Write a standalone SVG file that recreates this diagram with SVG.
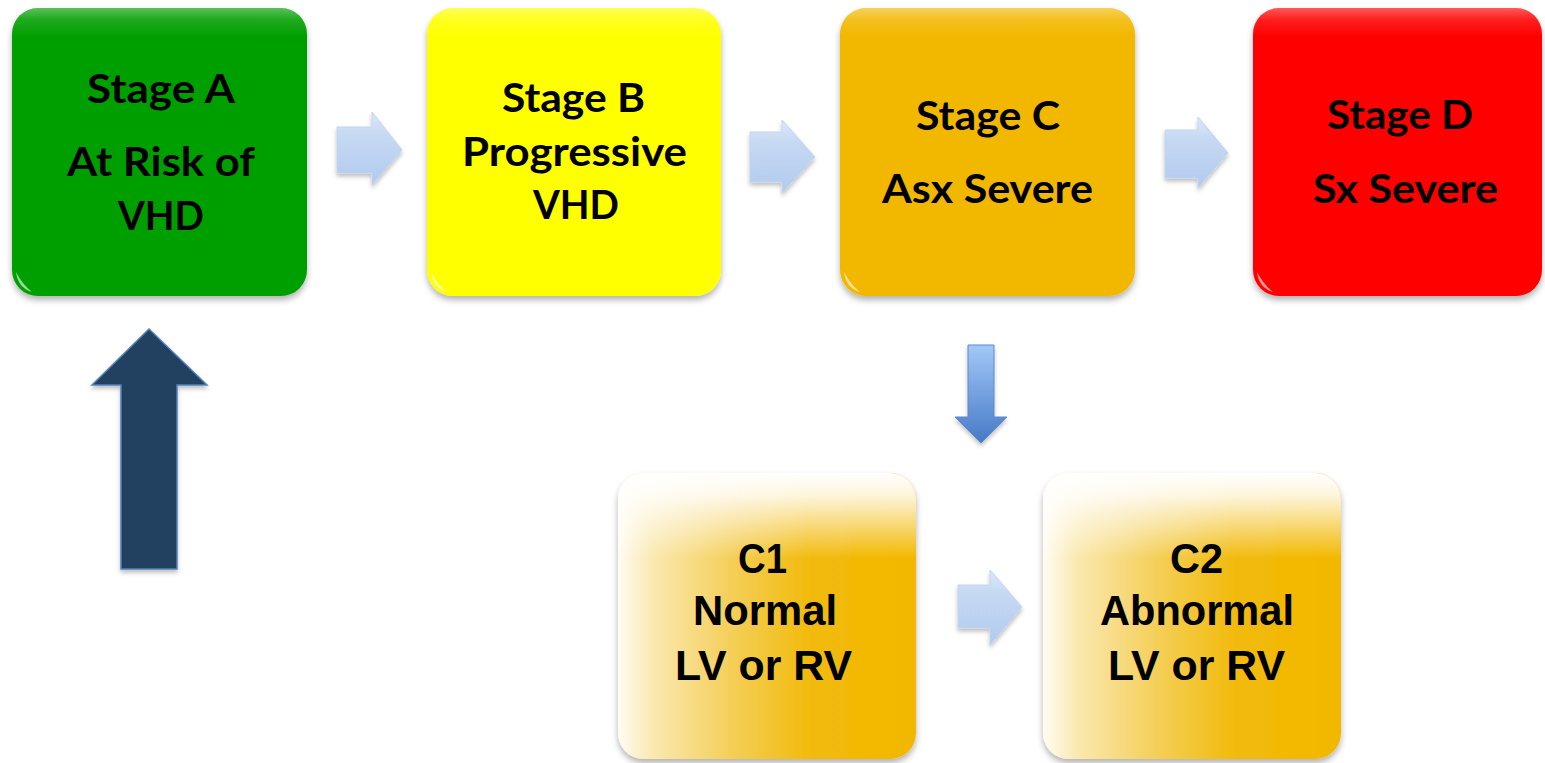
<svg xmlns="http://www.w3.org/2000/svg" width="1545" height="763" viewBox="0 0 1545 763">
  <defs>
    <filter id="shadow" x="-10%" y="-10%" width="120%" height="125%">
      <feDropShadow dx="0" dy="4" stdDeviation="3" flood-color="#000" flood-opacity="0.3"/>
    </filter>
    <filter id="ashadow" x="-20%" y="-20%" width="140%" height="150%">
      <feDropShadow dx="0" dy="3" stdDeviation="2" flood-color="#000" flood-opacity="0.25"/>
    </filter>
    <linearGradient id="gloss" x1="0" y1="0" x2="0" y2="1">
      <stop offset="0" stop-color="#fff" stop-opacity="0.35"/>
      <stop offset="0.04" stop-color="#fff" stop-opacity="0.12"/>
      <stop offset="0.1" stop-color="#fff" stop-opacity="0"/>
      <stop offset="1" stop-color="#fff" stop-opacity="0"/>
    </linearGradient>
    <linearGradient id="cfill" x1="0" y1="0" x2="1" y2="0">
      <stop offset="0" stop-color="#FFFCF2"/>
      <stop offset="0.12" stop-color="#FAE8AE"/>
      <stop offset="0.4" stop-color="#F4CD52"/>
      <stop offset="0.65" stop-color="#F2BA0A"/>
      <stop offset="1" stop-color="#F2B800"/>
    </linearGradient>
    <linearGradient id="ctop" x1="0" y1="0" x2="0" y2="1">
      <stop offset="0" stop-color="#fff" stop-opacity="1"/>
      <stop offset="0.08" stop-color="#fff" stop-opacity="0.85"/>
      <stop offset="0.3" stop-color="#fff" stop-opacity="0"/>
    </linearGradient>
    <linearGradient id="lblue" x1="0" y1="0" x2="0" y2="1">
      <stop offset="0" stop-color="#DCE8F8"/>
      <stop offset="0.3" stop-color="#C6D9F3"/>
      <stop offset="1" stop-color="#B2CAEE"/>
    </linearGradient>
    <linearGradient id="dblue" x1="0" y1="0" x2="0" y2="1">
      <stop offset="0" stop-color="#A3C8F8"/>
      <stop offset="1" stop-color="#4679C6"/>
    </linearGradient>
    <style>
      .stage { font-family: Lato, "Open Sans", "Liberation Sans", sans-serif; font-weight: bold; font-size: 41px; fill: #000; }
      .sub { font-family: "Liberation Sans", Arial, sans-serif; font-weight: bold; font-size: 42px; fill: #000; }
      .gl { fill: url(#gloss); }
      .spec { fill: #fff; opacity: 0.6; }
      .rarrow { fill: url(#lblue); stroke: #C2D4EE; stroke-width: 1; filter: url(#ashadow); }
    </style>
  </defs>

  <g id="connectors">
    <path class="rarrow" d="M337,127 H372 V112 L402,150 L372,185 V173 H337 Z"/>
    <path class="rarrow" d="M750,132 H782 V120 L815,157 L782,193 V182 H750 Z"/>
    <path class="rarrow" d="M1165,130 H1198 V117 L1228,153 L1198,188 V178 H1165 Z"/>
    <path class="rarrow" d="M958,585 H990 V570 L1022,607 L990,645 V628 H958 Z"/>
    <path d="M968,345 H994 V417 H1007 L981,443 L955,417 H968 Z" fill="url(#dblue)" stroke="#5A8AD0" stroke-width="1" filter="url(#ashadow)"/>
    <path d="M149,329 L207,385 H177 V569 H121 V385 H92 Z" fill="#243F60" stroke="#4F81BD" stroke-width="1.5" filter="url(#ashadow)"/>
  </g>

  <g id="stageA">
    <rect x="12" y="8" width="295" height="288" rx="26" fill="#039F03" filter="url(#shadow)"/>
    <rect class="gl" x="12" y="8" width="295" height="288" rx="26"/>
    <path d="M16,272 Q18,288 32,292 Q22,284 16,272 Z" class="spec"/>
    <text class="stage" x="87" y="103" textLength="148" lengthAdjust="spacingAndGlyphs">Stage A</text>
    <text class="stage" x="67" y="176" textLength="188" lengthAdjust="spacingAndGlyphs">At Risk of</text>
    <text class="stage" x="118" y="230" textLength="86" lengthAdjust="spacingAndGlyphs">VHD</text>
  </g>

  <g id="stageB">
    <rect x="427" y="8" width="294" height="288" rx="26" fill="#FFFF00" filter="url(#shadow)"/>
    <rect class="gl" x="427" y="8" width="294" height="288" rx="26"/>
    <path d="M431,272 Q433,288 447,292 Q437,284 431,272 Z" class="spec"/>
    <text class="stage" x="502" y="112" textLength="143" lengthAdjust="spacingAndGlyphs">Stage B</text>
    <text class="stage" x="462" y="166" textLength="225" lengthAdjust="spacingAndGlyphs">Progressive</text>
    <text class="stage" x="533" y="219" textLength="86" lengthAdjust="spacingAndGlyphs">VHD</text>
  </g>

  <g id="stageC">
    <rect x="840" y="8" width="295" height="288" rx="26" fill="#F2B800" filter="url(#shadow)"/>
    <rect class="gl" x="840" y="8" width="295" height="288" rx="26"/>
    <path d="M844,272 Q846,288 860,292 Q850,284 844,272 Z" class="spec"/>
    <text class="stage" x="916" y="130" textLength="144" lengthAdjust="spacingAndGlyphs">Stage C</text>
    <text class="stage" x="882" y="203" textLength="211" lengthAdjust="spacingAndGlyphs">Asx Severe</text>
  </g>

  <g id="stageD">
    <rect x="1253" y="8" width="289" height="288" rx="26" fill="#FF0000" filter="url(#shadow)"/>
    <rect class="gl" x="1253" y="8" width="289" height="288" rx="26"/>
    <path d="M1257,272 Q1259,288 1273,292 Q1263,284 1257,272 Z" class="spec"/>
    <text class="stage" x="1327" y="129" textLength="146" lengthAdjust="spacingAndGlyphs">Stage D</text>
    <text class="stage" x="1313" y="203" textLength="185" lengthAdjust="spacingAndGlyphs">Sx Severe</text>
  </g>

  <g id="C1">
    <rect x="618" y="473" width="298" height="286" rx="26" fill="url(#cfill)" filter="url(#shadow)"/>
    <rect x="618" y="473" width="298" height="286" rx="26" fill="url(#ctop)"/>
    <text class="sub" x="738" y="573" textLength="49" lengthAdjust="spacingAndGlyphs">C1</text>
    <text class="sub" x="693" y="625" textLength="144" lengthAdjust="spacingAndGlyphs">Normal</text>
    <text class="sub" x="675" y="680" textLength="177" lengthAdjust="spacingAndGlyphs">LV or RV</text>
  </g>

  <g id="C2">
    <rect x="1043" y="473" width="298" height="286" rx="26" fill="url(#cfill)" filter="url(#shadow)"/>
    <rect x="1043" y="473" width="298" height="286" rx="26" fill="url(#ctop)"/>
    <text class="sub" x="1170" y="573" textLength="53" lengthAdjust="spacingAndGlyphs">C2</text>
    <text class="sub" x="1100" y="625" textLength="194" lengthAdjust="spacingAndGlyphs">Abnormal</text>
    <text class="sub" x="1108" y="680" textLength="177" lengthAdjust="spacingAndGlyphs">LV or RV</text>
  </g>
</svg>
